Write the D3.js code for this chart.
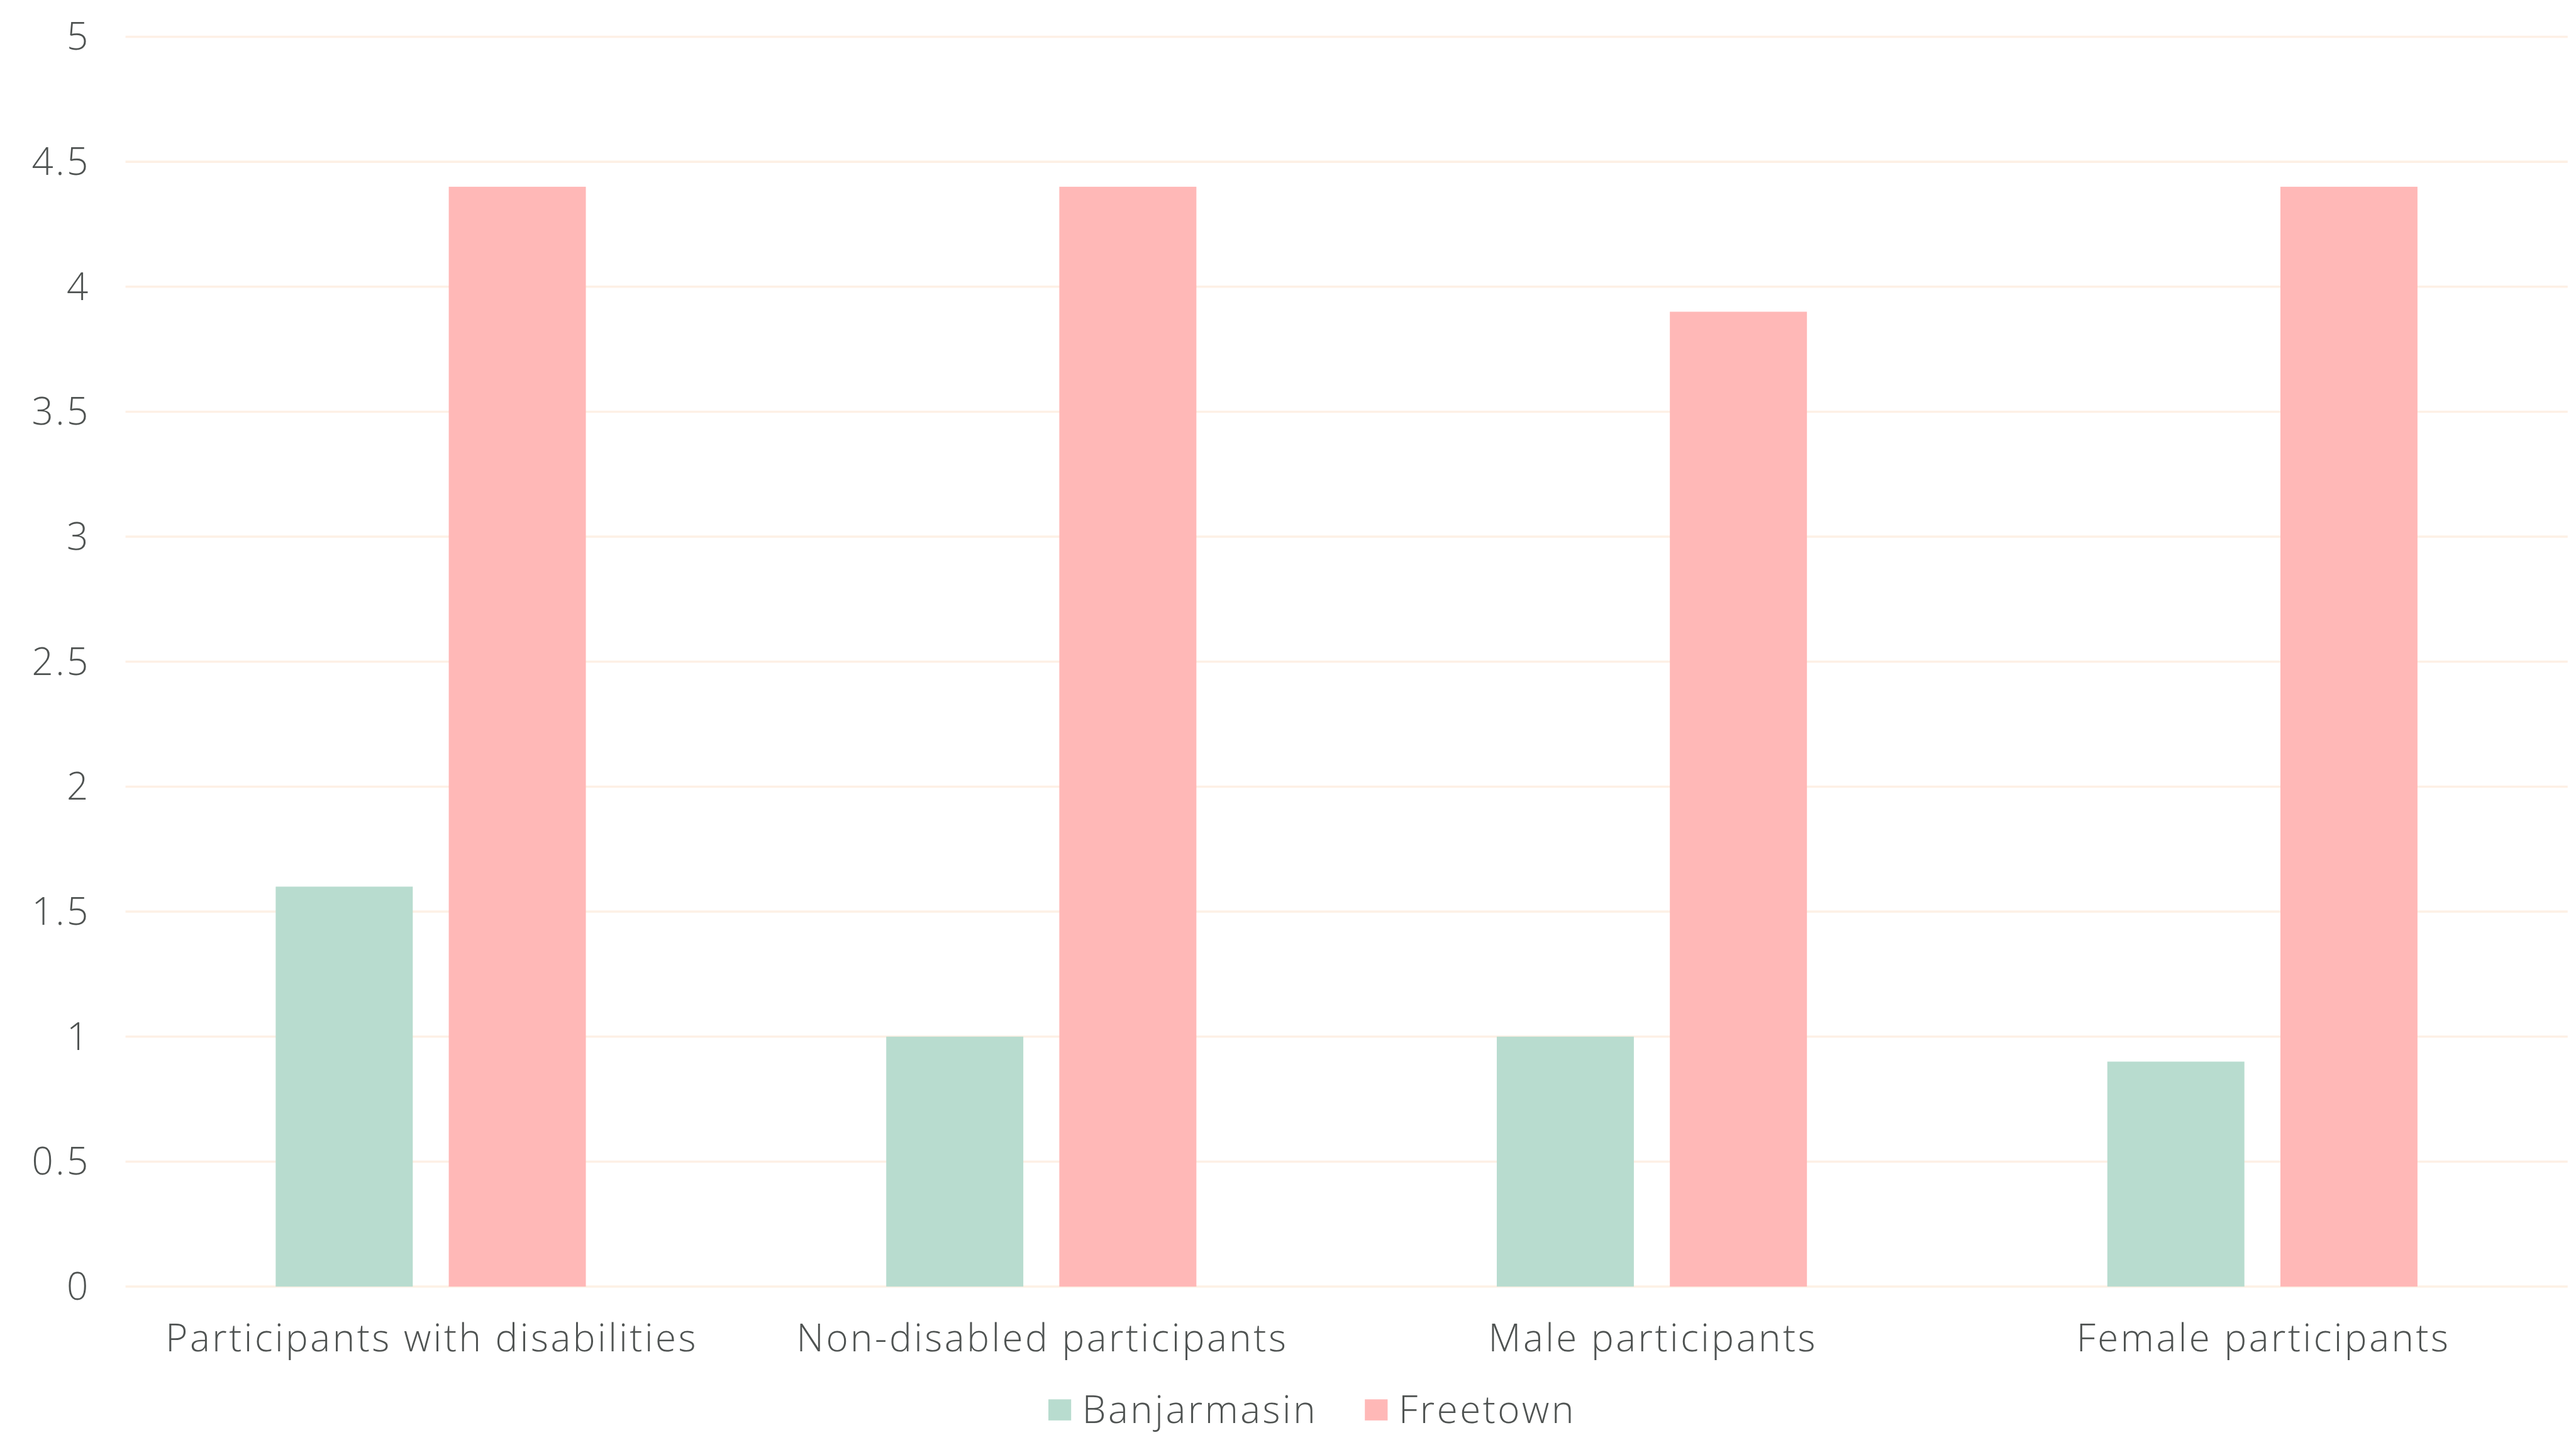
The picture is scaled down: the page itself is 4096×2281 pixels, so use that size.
<!DOCTYPE html>
<html>
<head>
<meta charset="utf-8">
<script src="https://cdn.jsdelivr.net/npm/d3@7"></script>
<style>
  html, body { margin: 0; padding: 0; background: #ffffff; overflow: hidden; }
  text { font-family: "Open Sans", "Noto Sans", sans-serif; font-weight: 300; fill: #4f5352; letter-spacing: 4px; }
</style>
</head>
<body>
<svg id="chart"></svg>
<script>
// Chart data
const categories = ["Participants with disabilities", "Non-disabled participants", "Male participants", "Female participants"];
const seriesNames = ["Banjarmasin", "Freetown"];
const banjarmasin = [1.6, 1.0, 1.0, 0.9];
const freetown = [4.4, 4.4, 3.9, 4.4];
const yTicks = [0, 0.5, 1, 1.5, 2, 2.5, 3, 3.5, 4, 4.5, 5];
const colors = ["#b8dccf", "#ffb8b7"];

// Layout in design units, scaled to the window by the viewBox
const W = 4639, H = 2583;
const margin = { left: 226, right: 15, top: 66, bottom: 267 };
const fontSize = 68;

const svg = d3.select("#chart")
  .attr("width", 4096)
  .attr("height", 2281)
  .attr("viewBox", `0 0 ${W} ${H}`);

const x0 = d3.scaleBand()
  .domain(categories)
  .range([margin.left, W - margin.right])
  .paddingInner(0.492)
  .paddingOuter(0.246);

const x1 = d3.scaleBand()
  .domain(seriesNames)
  .range([0, x0.bandwidth()])
  .paddingInner(0.208);

const y = d3.scaleLinear()
  .domain([0, 5])
  .range([H - margin.bottom, margin.top]);

// Horizontal gridlines
svg.append("g")
  .selectAll("line")
  .data(yTicks)
  .join("line")
  .attr("x1", margin.left)
  .attr("x2", W - margin.right)
  .attr("y1", d => y(d))
  .attr("y2", d => y(d))
  .attr("stroke", "#fdf0e5")
  .attr("stroke-width", 4);

// Y tick labels
svg.append("g")
  .selectAll("text")
  .data(yTicks)
  .join("text")
  .attr("x", 163)
  .attr("y", d => y(d))
  .attr("dy", "0.35em")
  .attr("text-anchor", "end")
  .attr("font-size", fontSize)
  .text(d => String(d));

// Bars
const rows = categories.map((c, i) => ({ cat: c, values: [banjarmasin[i], freetown[i]] }));
const groups = svg.append("g")
  .selectAll("g")
  .data(rows)
  .join("g")
  .attr("transform", d => `translate(${x0(d.cat)},0)`);

groups.selectAll("rect")
  .data(d => d.values.map((v, j) => ({ name: seriesNames[j], value: v, j })))
  .join("rect")
  .attr("x", d => x1(d.name))
  .attr("width", x1.bandwidth())
  .attr("y", d => y(d.value))
  .attr("height", d => y(0) - y(d.value))
  .attr("fill", d => colors[d.j]);

// X category labels
svg.append("g")
  .selectAll("text")
  .data(categories)
  .join("text")
  .attr("x", d => x0(d) + x0.bandwidth() / 2 + 2)
  .attr("y", 2433)
  .attr("text-anchor", "middle")
  .attr("font-size", fontSize)
  .text(d => d);

// Legend
const legend = svg.append("g");
let lx = 1888;
seriesNames.forEach((name, i) => {
  legend.append("rect")
    .attr("x", lx)
    .attr("y", 2519)
    .attr("width", 41)
    .attr("height", 38)
    .attr("fill", colors[i]);
  const t = legend.append("text")
    .attr("x", lx + 61)
    .attr("y", 2562)
    .attr("font-size", fontSize)
    .text(name);
  lx += 61 + t.node().getComputedTextLength() + 85;
});
</script>
</body>
</html>
